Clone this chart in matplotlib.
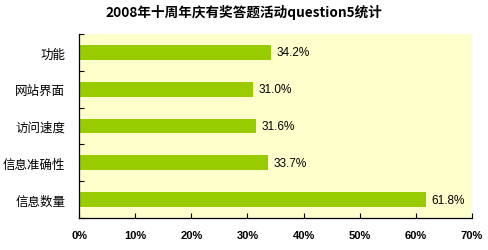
import matplotlib
matplotlib.use("Agg")
import matplotlib.pyplot as plt
import numpy as np

plt.rcParams['font.family'] = ['Noto Sans CJK SC', 'DejaVu Sans']

# 数据
categories = ["功能", "网站界面", "访问速度", "信息准确性", "信息数量"]
values = [34.2, 31.0, 31.6, 33.7, 61.8]
xticks = [0, 10, 20, 30, 40, 50, 60, 70]
title = "2008年十周年庆有奖答题活动question5统计"

bar_color = "#99CC00"
bg_color = "#FFFFCC"

fig = plt.figure(figsize=(4.88, 2.51), dpi=100)
ax = fig.add_axes([79 / 488, 1 - 219 / 251, (472 - 79) / 488, (219 - 35) / 251])
ax.set_facecolor(bg_color)

y = np.arange(len(categories))
ax.barh(y, values, height=0.4, color=bar_color, zorder=2)

# 数值标签
for yi, v in zip(y, values):
    ax.text(v + 0.9, yi, f"{v:.1f}%", va="center", ha="left",
            fontsize=8.5, family="Liberation Sans", color="black", zorder=3)

ax.set_xlim(0, 70)
ax.set_ylim(len(categories) - 0.5, -0.5)

ax.set_xticks(xticks)
ax.set_xticklabels([f"{t}%" for t in xticks], fontsize=8,
                   fontweight="bold", family="Liberation Sans")
ax.set_yticks(y)
ax.set_yticklabels(categories, fontsize=9)
ax.set_yticks(np.arange(-0.5, len(categories), 1.0), minor=True)

ax.tick_params(axis="y", which="major", length=0, pad=10)
ax.tick_params(axis="y", which="minor", direction="in", length=3.5, width=0.8)
ax.tick_params(axis="x", direction="in", length=3.5, width=0.8, pad=9)

for side in ["top", "right"]:
    ax.spines[side].set_visible(False)
for side in ["left", "bottom"]:
    ax.spines[side].set_linewidth(0.9)
    ax.spines[side].set_color("black")

fig.text(0.5, 1 - 13 / 251, title, ha="center", va="center",
         fontsize=9.8, fontweight="bold")

fig.savefig("out.png", dpi=100)
